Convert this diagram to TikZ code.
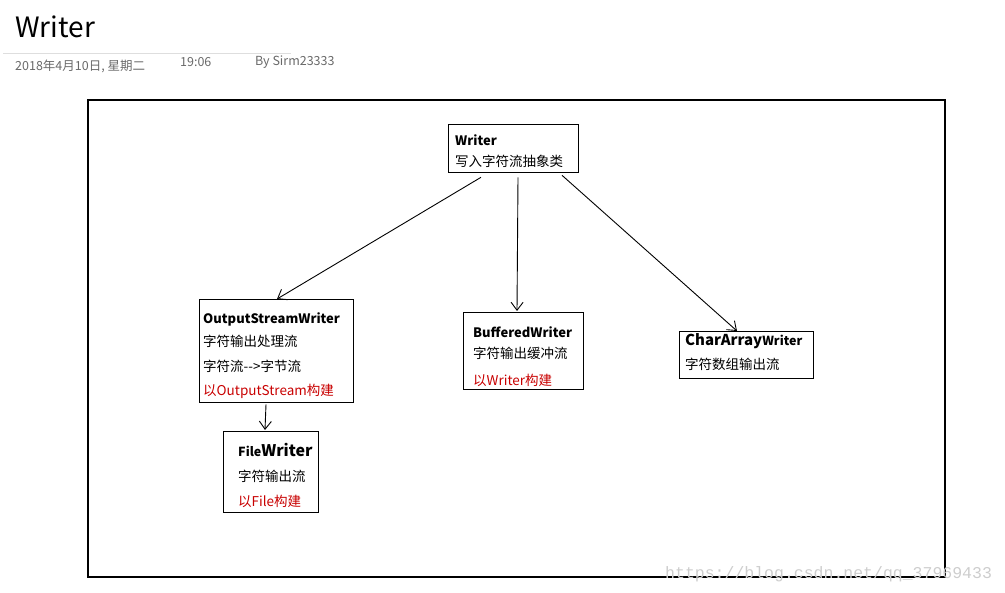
\documentclass[tikz,border=0pt]{standalone}
\usepackage{fontspec}
\setmainfont{Noto Sans CJK SC}
\newfontfamily\wmfont{Liberation Mono}
\usetikzlibrary{arrows.meta,calc}
\definecolor{hdrgray}{RGB}{105,105,105}
\definecolor{linegray}{RGB}{222,222,222}
\definecolor{wmgray}{RGB}{205,205,205}
\definecolor{buildred}{RGB}{200,0,0}
\tikzset{
  box/.style={draw=black, line width=1.3pt, rectangle, inner sep=0pt, anchor=north west},
  txt/.style={anchor=base west, inner sep=0pt, font=\fontsize{13.5}{15}\selectfont},
  ttl/.style={anchor=base west, inner sep=0pt, font=\fontsize{13}{15}\selectfont\bfseries},
  red/.style={txt, text=buildred},
  hdr/.style={anchor=base west, inner sep=0pt, text=hdrgray, font=\fontsize{12.5}{14}\selectfont},
  link/.style={draw=black, line width=0.9pt, -{Straight Barb[length=8pt,width=12pt,line width=0.9pt]}}
}
\begin{document}
\begin{tikzpicture}[x=1pt,y=-1pt]
\useasboundingbox (0,0) rectangle (1005,593);
% header
\node[anchor=base west, inner sep=0pt, font=\fontsize{28}{30}\selectfont] (title) at (15,38) {Writer};
\coordinate (hl1) at (3,53);
\coordinate (hl2) at (291,53);
\draw[linegray, line width=0.8pt] (hl1) -- (hl2);
\node[hdr] (date) at (15,71) {2018年4月10日, 星期二};
\node[hdr] (time) at (180,67) {19:06};
\node[hdr] (by) at (255,66) {By Sirm23333};
% frame
\node[box, line width=1.6pt, minimum width=857pt, minimum height=477pt] (frame) at (87,99) {};
% boxes
\node[box, minimum width=130pt, minimum height=48pt] (writer) at (448,124) {};
\node[box, minimum width=154pt, minimum height=103pt] (osw) at (199,299) {};
\node[box, minimum width=120pt, minimum height=77pt] (buf) at (463,312) {};
\node[box, minimum width=134pt, minimum height=47pt] (car) at (679,331) {};
\node[box, minimum width=95pt, minimum height=81pt] (fw) at (223,431) {};
% texts
\node[ttl] (t1) at (455,146) {Writer};
\node[txt] (t2) at (455,167) {写入字符流抽象类};
\node[ttl] (t3) at (203,324) {OutputStreamWriter};
\node[txt] (t4) at (203,347) {字符输出处理流};
\node[txt] (t5) at (203,372) {字符流-{}->字节流};
\node[red] (t6) at (203,396) {以OutputStream构建};
\node[ttl] (t7) at (473,338) {BufferedWriter};
\node[txt] (t8) at (473,359) {字符输出缓冲流};
\node[red] (t9) at (473,386) {以Writer构建};
\node[anchor=base west, inner sep=0pt, font=\bfseries] (t10) at (685,346) {\fontsize{15}{17}\selectfont CharArray\fontsize{12.5}{15}\selectfont Writer};
\node[txt] (t11) at (685,370) {字符数组输出流};
\node[anchor=base west, inner sep=0pt, font=\bfseries] (t12) at (238,457) {\fontsize{12.5}{15}\selectfont File\fontsize{16}{18}\selectfont Writer};
\node[txt] (t13) at (238,482) {字符输出流};
\node[red] (t14) at (238,507) {以File构建};
% connectors
\draw[link] ($(writer.south west)+(33,4)$) -- ($(osw.north west)+(78,0)$);
\draw[link] ($(writer.south west)+(70,4)$) -- ($(buf.north west)+(54,-1)$);
\draw[link] ($(writer.south west)+(114,2)$) -- ($(car.north west)+(58,0)$);
\draw[link] ($(osw.south west)+(67,1)$) -- ($(fw.north west)+(42,-1)$);
% watermark
\node[anchor=base west, inner sep=0pt, text=wmgray, font=\wmfont\fontsize{16.5}{18}\selectfont] (wm) at (665,579) {https://blog.csdn.net/qq\_37969433};
\end{tikzpicture}
\end{document}
